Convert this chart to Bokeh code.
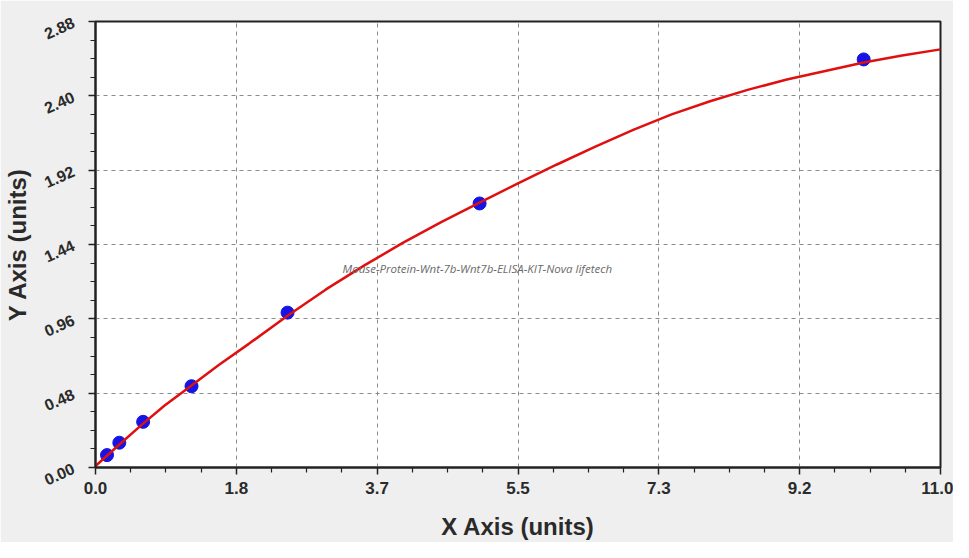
from bokeh.plotting import figure
from bokeh.models import FixedTicker, Label
from bokeh.embed import file_html
from bokeh.resources import INLINE

# ---- data ----
std_conc = [0.15, 0.31, 0.62, 1.25, 2.5, 5.0, 10.0]
std_od = [0.08, 0.16, 0.295, 0.525, 1.0, 1.705, 2.635]

curve_x = [0.0, 0.3, 0.6, 0.9, 1.25, 1.6, 2.0, 2.5, 3.0, 3.5, 4.0, 4.5, 5.0, 5.5,
           6.0, 6.5, 7.0, 7.5, 8.0, 8.5, 9.0, 9.5, 10.0, 10.5, 11.0]
curve_y = [0.01, 0.144, 0.275, 0.40, 0.53, 0.66, 0.80, 0.98, 1.15, 1.305, 1.45, 1.585, 1.71, 1.835,
           1.955, 2.07, 2.18, 2.28, 2.365, 2.44, 2.505, 2.56, 2.615, 2.66, 2.70]

x_ticks = [0.0, 11/6, 22/6, 5.5, 44/6, 55/6, 11.0]
x_tick_labels = ["0.0", "1.8", "3.7", "5.5", "7.3", "9.2", "11.0"]
y_ticks = [0.0, 0.48, 0.96, 1.44, 1.92, 2.40, 2.88]
y_tick_labels = ["0.00", "0.48", "0.96", "1.44", "1.92", "2.40", "2.88"]

watermark = "Mouse-Protein-Wnt-7b-Wnt7b-ELISA-KIT-Nova lifetech"
watermark_pos = (4.97, 1.285)

x_title = "X Axis (units)"
y_title = "Y Axis (units)"

# ---- figure ----
W, H = 953, 542
p = figure(width=W, height=H, output_backend="svg", toolbar_location=None,
           x_range=(0, 11.0), y_range=(0, 2.88),
           min_border_left=95, min_border_right=13, min_border_top=21, min_border_bottom=74)
p.background_fill_color = "white"
p.border_fill_color = "#efefef"
p.outline_line_color = "#222222"
p.outline_line_width = 2

def minors(ticks):
    out = []
    for a, b in zip(ticks[:-1], ticks[1:]):
        step = (b - a) / 4
        out += [a + step * k for k in (1, 2, 3)]
    return out

p.xaxis.ticker = FixedTicker(ticks=x_ticks, minor_ticks=minors(x_ticks))
p.yaxis.ticker = FixedTicker(ticks=y_ticks, minor_ticks=minors(y_ticks))
p.xaxis.major_label_overrides = {t: l for t, l in zip(x_ticks, x_tick_labels)}
p.yaxis.major_label_overrides = {t: l for t, l in zip(y_ticks, y_tick_labels)}

for ax in (p.xaxis, p.yaxis):
    ax.axis_line_color = "#222222"
    ax.axis_line_width = 2
    ax.major_tick_line_color = "#222222"
    ax.minor_tick_line_color = "#222222"
    ax.major_tick_line_width = 1.5
    ax.minor_tick_line_width = 1.2
    ax.major_tick_out = 7
    ax.major_tick_in = 0
    ax.minor_tick_out = 5
    ax.minor_tick_in = 0
    ax.major_label_text_font = "Liberation Sans"
    ax.major_label_text_font_style = "bold"
    ax.major_label_text_color = "#2a2a2a"
    ax.axis_label_text_font = "Liberation Sans"
    ax.axis_label_text_font_style = "bold"
    ax.axis_label_text_font_size = "24px"
    ax.axis_label_text_line_height = 1.0
    ax.axis_label_text_color = "#2a2a2a"

p.xaxis.major_label_text_font_size = "17px"
p.yaxis.major_label_text_font_size = "16px"
p.xaxis.axis_label = x_title
p.yaxis.axis_label = y_title
p.xaxis.major_label_standoff = 7
p.xaxis.axis_label_standoff = 16
p.yaxis.major_label_orientation = 0.42
p.yaxis.major_label_standoff = 15
p.yaxis.axis_label_standoff = 6

for g in (p.xgrid, p.ygrid):
    g.grid_line_color = "#8a8a8a"
    g.grid_line_dash = "4 4"
    g.grid_line_width = 1

p.scatter(std_conc, std_od, size=13, marker="circle", color="#1414e6")
p.line(curve_x, curve_y, line_color="#e01010", line_width=2.5)

p.add_layout(Label(x=watermark_pos[0], y=watermark_pos[1], text=watermark,
                   text_align="center", text_baseline="middle",
                   text_font="Open Sans", text_font_style="italic",
                   text_font_size="11.5px", text_color="#6a6a6a"))

open("out.html", "w").write(file_html(p, INLINE))
